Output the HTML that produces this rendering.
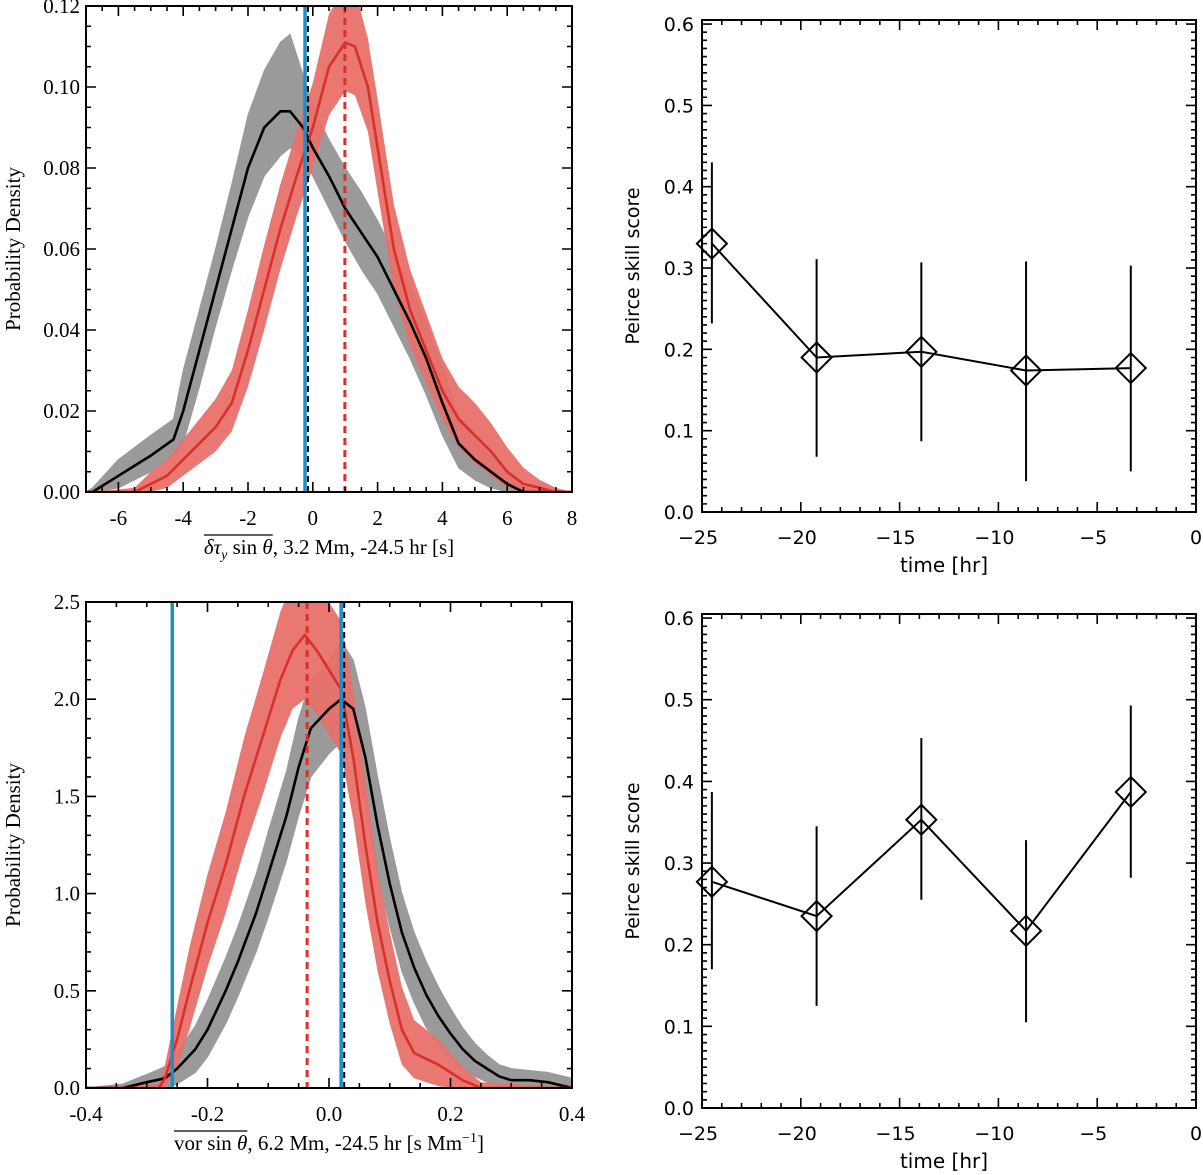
<!DOCTYPE html>
<html><head><meta charset="utf-8"><style>
html,body{margin:0;padding:0;background:#fff;}
svg{display:block;}
</style></head><body>
<svg id="fig" width="1203" height="1175" viewBox="0 0 1203 1175" xmlns="http://www.w3.org/2000/svg"></svg>
<script>
// ---------- Top-left data ----------
const tlX = [-7,-6.8,-6,-5,-4.3,-4,-3.5,-3,-2.5,-2,-1.5,-1,-0.7,-0.3,0,0.5,1,1.5,2,2.5,3,3.5,4,4.5,5,5.5,6,6.5,7,8];
const tlBlack = [0,0,0.004,0.009,0.013,0.02,0.035,0.05,0.065,0.08,0.09,0.094,0.094,0.09,0.085,0.078,0.07,0.064,0.058,0.05,0.042,0.033,0.022,0.012,0.008,0.005,0.002,0,0,0];
const tlBlackLo = [0,0,0.001,0.005,0.009,0.012,0.026,0.041,0.055,0.068,0.078,0.083,0.085,0.083,0.078,0.07,0.062,0.055,0.049,0.041,0.033,0.024,0.014,0.006,0.003,0.001,0,0,0,0];
const tlBlackHi = [0,0.001,0.008,0.014,0.018,0.03,0.045,0.06,0.076,0.093,0.104,0.111,0.113,0.103,0.095,0.087,0.08,0.074,0.067,0.059,0.051,0.042,0.031,0.019,0.013,0.009,0.005,0.002,0,0];
const tlRedX = [-7,-5.5,-5,-4.5,-4,-3.5,-3,-2.5,-2,-1.5,-1,-0.5,0,0.5,1,1.3,1.7,2,2.5,3,3.5,4,4.5,5,5.5,6,6.5,7,7.5,8];
const tlRed = [0,0,0.002,0.004,0.008,0.012,0.016,0.022,0.035,0.05,0.065,0.078,0.09,0.105,0.111,0.11,0.1,0.085,0.06,0.045,0.035,0.025,0.018,0.014,0.01,0.005,0.002,0.001,0,0];
const tlRedLo = [0,0,0,0.001,0.004,0.007,0.01,0.015,0.026,0.04,0.055,0.068,0.08,0.093,0.099,0.098,0.089,0.074,0.05,0.036,0.027,0.018,0.011,0.007,0.004,0.001,0,0,0,0];
const tlRedHi = [0,0.001,0.005,0.008,0.013,0.018,0.023,0.03,0.045,0.061,0.076,0.089,0.101,0.118,0.125,0.124,0.112,0.097,0.071,0.055,0.044,0.033,0.026,0.022,0.017,0.011,0.006,0.003,0.001,0];
const tlVlines = [-0.24, -0.15, 0.99]; // blue solid, black dashed, red dashed
const tlXTicks = [-6,-4,-2,0,2,4,6,8];
const tlYTicks = [0,0.02,0.04,0.06,0.08,0.10,0.12];
const tlYLabels = ["0.00","0.02","0.04","0.06","0.08","0.10","0.12"];

// ---------- Bottom-left data ----------
const blX = [-0.4,-0.34,-0.3,-0.27,-0.25,-0.22,-0.2,-0.17,-0.15,-0.12,-0.1,-0.07,-0.05,-0.03,0,0.02,0.04,0.06,0.08,0.1,0.12,0.14,0.16,0.18,0.2,0.22,0.24,0.26,0.28,0.3,0.33,0.36,0.4];
const blBlack = [0,0,0.03,0.05,0.1,0.2,0.3,0.5,0.65,0.9,1.1,1.4,1.65,1.85,1.95,2.0,1.95,1.7,1.35,1.05,0.8,0.62,0.48,0.37,0.28,0.2,0.14,0.1,0.06,0.04,0.04,0.03,0.0];
const blBlackLo = [0,0,0,0,0.02,0.08,0.16,0.33,0.47,0.7,0.88,1.17,1.4,1.6,1.72,1.78,1.72,1.45,1.1,0.83,0.6,0.44,0.31,0.22,0.15,0.1,0.06,0.03,0.01,0,0,0,0];
const blBlackHi = [0,0.02,0.07,0.11,0.18,0.32,0.45,0.67,0.83,1.1,1.32,1.63,1.9,2.1,2.2,2.3,2.2,1.95,1.6,1.28,1.0,0.8,0.65,0.52,0.41,0.31,0.23,0.17,0.12,0.1,0.09,0.08,0.05];
const blRedX = [-0.4,-0.28,-0.27,-0.25,-0.23,-0.2,-0.17,-0.14,-0.11,-0.08,-0.06,-0.04,-0.02,0,0.02,0.04,0.06,0.08,0.1,0.12,0.14,0.16,0.18,0.2,0.22,0.25,0.4];
const blRed = [0,0,0.05,0.25,0.5,0.85,1.15,1.5,1.8,2.1,2.25,2.33,2.25,2.15,2.05,1.7,1.25,0.85,0.55,0.3,0.18,0.15,0.12,0.08,0.04,0,0];
const blRedLo = [0,0,0,0.1,0.3,0.62,0.9,1.22,1.5,1.8,1.95,2.0,1.92,1.82,1.72,1.38,0.95,0.6,0.33,0.12,0.05,0.03,0.01,0,0,0,0];
const blRedHi = [0,0.02,0.12,0.42,0.72,1.1,1.42,1.8,2.12,2.45,2.6,2.7,2.62,2.5,2.4,2.05,1.58,1.12,0.8,0.52,0.35,0.3,0.25,0.18,0.11,0.03,0];
const blVlines = [-0.258, 0.025, -0.036, 0.02]; // blue, black dashed, red dashed, blue
const blXTicks = [-0.4,-0.2,0.0,0.2,0.4];
const blXLabels = ["-0.4","-0.2","0.0","0.2","0.4"];
const blYTicks = [0,0.5,1.0,1.5,2.0,2.5];
const blYLabels = ["0.0","0.5","1.0","1.5","2.0","2.5"];

// ---------- Right panels data ----------
const pssTimes = [-24.5,-19.2,-13.9,-8.6,-3.3];
const trVal = [0.33,0.19,0.197,0.174,0.177];
const trLo = [0.232,0.068,0.087,0.038,0.05];
const trHi = [0.43,0.311,0.307,0.308,0.303];
const brVal = [0.277,0.235,0.353,0.217,0.387];
const brLo = [0.17,0.125,0.255,0.105,0.282];
const brHi = [0.387,0.345,0.453,0.328,0.493];
const rXTicks = [-25,-20,-15,-10,-5,0];
const rXLabels = ["\u221225","\u221220","\u221215","\u221210","\u22125","0"];
const rYTicks = [0,0.1,0.2,0.3,0.4,0.5,0.6];
const rYLabels = ["0.0","0.1","0.2","0.3","0.4","0.5","0.6"];

const NS = "http://www.w3.org/2000/svg";
const svg = document.getElementById('fig');
function mk(tag, attrs, parent){
  const e = document.createElementNS(NS, tag);
  for (const k in attrs) e.setAttribute(k, attrs[k]);
  (parent||svg).appendChild(e);
  return e;
}
function scale(d0,d1,p0,p1){ return v => p0 + (v-d0)/(d1-d0)*(p1-p0); }

function frame(g, L,T,R,B, sx, sy, xMaj, xMin, yMaj, yMin, majLen, minLen){
  const f = mk('rect',{x:L,y:T,width:R-L,height:B-T,fill:'none',stroke:'#000','stroke-width':2},g);
  
  
  let d='';
  xMin.forEach(v=>{const x=sx(v); d+=`M${x},${B}v${-minLen}M${x},${T}v${minLen}`;});
  xMaj.forEach(v=>{const x=sx(v); d+=`M${x},${B}v${-majLen}M${x},${T}v${majLen}`;});
  yMin.forEach(v=>{const y=sy(v); d+=`M${L},${y}h${minLen}M${R},${y}h${-minLen}`;});
  yMaj.forEach(v=>{const y=sy(v); d+=`M${L},${y}h${majLen}M${R},${y}h${-majLen}`;});
  const t = mk('path',{d:d,stroke:'#000','stroke-width':1.6,fill:'none'},g);
  
  
}
function range(a,b,s){const r=[];for(let v=a;v<=b+1e-9;v+=s)r.push(+v.toFixed(6));return r;}
function linePath(xs,ys,sx,sy){return xs.map((x,i)=>(i?'L':'M')+sx(x).toFixed(1)+','+sy(ys[i]).toFixed(1)).join('');}
function bandPath(xs,lo,hi,sx,sy){
  let d=xs.map((x,i)=>(i?'L':'M')+sx(x).toFixed(1)+','+sy(hi[i]).toFixed(1)).join('');
  for(let i=xs.length-1;i>=0;i--) d+='L'+sx(xs[i]).toFixed(1)+','+sy(lo[i]).toFixed(1);
  return d+'Z';
}

function densityPanel(id, L,T,R,B, xd, yd, data, xTicks, xLabels, xMinStep, yTicks, yLabels, yMinStep, vl, titleA, titleB){
  const g = mk('g',{});
  
  
  const sx = scale(xd[0],xd[1],L,R), sy = scale(yd[0],yd[1],B,T);
  const cid = id+'-clip';
  const cp = mk('clipPath',{id:cid},g); mk('rect',{x:L,y:T,width:R-L,height:B-T},cp);
  const pg = mk('g',{'clip-path':`url(#${cid})`},g);
  const gb = mk('path',{d:bandPath(data.bx,data.blo,data.bhi,sx,sy),fill:'#9a9a9a','stroke':'#9a9a9a','stroke-width':1,'stroke-linejoin':'round'},pg);
  
  
  const rb = mk('path',{d:bandPath(data.rx,data.rlo,data.rhi,sx,sy),fill:'#e8716b','fill-opacity':0.95},pg);
  
  
  const bl = mk('path',{d:linePath(data.bx,data.b,sx,sy),fill:'none',stroke:'#000','stroke-width':2.6,'stroke-linejoin':'round'},pg);
  
  
  const rl = mk('path',{d:linePath(data.rx,data.r,sx,sy),fill:'none',stroke:'#d8302a','stroke-width':2.6,'stroke-linejoin':'round'},pg);
  
  
  vl.forEach(v=>{
    const x=sx(v.x);
    const ln = mk('line',{x1:x,x2:x,y1:T,y2:B,stroke:v.c,'stroke-width':v.w,'stroke-dasharray':v.dash||'none'},pg);
    
    
  });
  frame(g,L,T,R,B,sx,sy,xTicks,range(xd[0],xd[1],xMinStep),yTicks,range(yd[0],yd[1],yMinStep),10,5);
  xTicks.forEach((v,i)=>{
    const t=mk('text',{x:sx(v),y:B+33,'text-anchor':'middle','font-family':'Liberation Serif, serif','font-size':21},g);
    t.textContent=xLabels[i];
    
    
  });
  yTicks.forEach((v,i)=>{
    const t=mk('text',{x:L-6,y:sy(v)+7,'text-anchor':'end','font-family':'Liberation Serif, serif','font-size':21},g);
    t.textContent=yLabels[i];
    
    
  });
  const yt=mk('text',{x:0,y:0,transform:`translate(20,${(T+B)/2}) rotate(-90)`,'text-anchor':'middle','font-family':'Liberation Serif, serif','font-size':21},g);
  yt.textContent='Probability Density';
  
  
  // x title: overlined part A + plain part B
  const by = B+62;
  const ta=mk('text',{x:0,y:by,'font-family':'Liberation Serif, serif','font-size':21},g);
  ta.innerHTML=titleA;
  
  
  const tb=mk('text',{x:0,y:by,'font-family':'Liberation Serif, serif','font-size':21},g);
  tb.innerHTML=titleB;
  
  
  const wa=ta.getComputedTextLength(), wb=tb.getComputedTextLength();
  const x0=(L+R)/2-(wa+wb)/2;
  ta.setAttribute('x',x0); tb.setAttribute('x',x0+wa);
  const ol=mk('line',{x1:x0,x2:x0+wa,y1:by-19,y2:by-19,stroke:'#000','stroke-width':1.3},g);
  
  
  return g;
}

densityPanel('top-left-density',86,6,572,492,[-7,8],[0,0.12],
  {bx:tlX,b:tlBlack,blo:tlBlackLo,bhi:tlBlackHi,rx:tlRedX,r:tlRed,rlo:tlRedLo,rhi:tlRedHi},
  tlXTicks,tlXTicks.map(String),0.5,tlYTicks,tlYLabels,0.005,
  [{x:tlVlines[0],c:'#1a8fc9',w:3.5,name:'blue-threshold-line'},
   {x:tlVlines[1],c:'#000',w:2,dash:'6,4',name:'control-mean-line'},
   {x:tlVlines[2],c:'#d8302a',w:3,dash:'7,5',name:'flare-mean-line'}],
  '<tspan font-style="italic">δτ</tspan><tspan font-style="italic" font-size="14" dy="5">y</tspan><tspan dy="-5"> sin </tspan><tspan font-style="italic">θ</tspan>',
  ', 3.2 Mm, -24.5 hr [s]');

densityPanel('bottom-left-density',86,602,572,1088,[-0.4,0.4],[0,2.5],
  {bx:blX,b:blBlack,blo:blBlackLo,bhi:blBlackHi,rx:blRedX,r:blRed,rlo:blRedLo,rhi:blRedHi},
  blXTicks,blXLabels,0.05,blYTicks,blYLabels,0.1,
  [{x:blVlines[0],c:'#1a8fc9',w:3.5,name:'blue-threshold-line'},
   {x:blVlines[2],c:'#d8302a',w:3,dash:'7,5',name:'flare-mean-line'},
   {x:blVlines[3],c:'#1a8fc9',w:3.5,name:'blue-threshold-line-2'},
   {x:blVlines[1],c:'#000',w:2,dash:'6,4',name:'control-mean-line'}],
  'vor sin <tspan font-style="italic">θ</tspan>',
  ', 6.2 Mm, -24.5 hr [s Mm<tspan font-size="14" dy="-8">−1</tspan><tspan dy="8">]</tspan>');

function pssPanel(id,L,T,R,B,vals,lo,hi){
  const g = mk('g',{});
  
  
  const sx=scale(-25,0,L,R), sy=scale(0,0.605,B,T);
  frame(g,L,T,R,B,sx,sy,rXTicks,range(-25,0,1),rYTicks,range(0,0.6,0.01),10,5);
  pssTimes.forEach((t,i)=>{
    const e=mk('line',{x1:sx(t),x2:sx(t),y1:sy(lo[i]),y2:sy(hi[i]),stroke:'#000','stroke-width':2},g);
    
    
  });
  const ln=mk('path',{d:linePath(pssTimes,vals,sx,sy),fill:'none',stroke:'#000','stroke-width':2},g);
  
  
  pssTimes.forEach((t,i)=>{
    const x=sx(t),y=sy(vals[i]),r=15;
    const d=mk('path',{d:`M${x},${y-r}L${x+r},${y}L${x},${y+r}L${x-r},${y}Z`,fill:'none',stroke:'#000','stroke-width':2},g);
    
    
  });
  rXTicks.forEach((v,i)=>{
    const t=mk('text',{x:sx(v)-(i<5?4:0),y:B+32,'text-anchor':'middle','font-family':'DejaVu Sans, sans-serif','font-size':19},g);
    t.textContent=rXLabels[i];
    
    
  });
  rYTicks.forEach((v,i)=>{
    const t=mk('text',{x:L-8,y:sy(v)+7,'text-anchor':'end','font-family':'DejaVu Sans, sans-serif','font-size':19},g);
    t.textContent=rYLabels[i];
    
    
  });
  const yt=mk('text',{x:0,y:0,transform:`translate(639,${(T+B)/2}) rotate(-90)`,'text-anchor':'middle','font-family':'DejaVu Sans, sans-serif','font-size':19},g);
  yt.textContent='Peirce skill score';
  
  
  const xt=mk('text',{x:(L+R)/2-5,y:B+60,'text-anchor':'middle','font-family':'DejaVu Sans, sans-serif','font-size':20},g);
  xt.textContent='time [hr]';
  
  
}
pssPanel('top-right-skill-score',702,20,1196,512,trVal,trLo,trHi);
pssPanel('bottom-right-skill-score',702,614,1196,1108,brVal,brLo,brHi);
</script>
</body></html>
